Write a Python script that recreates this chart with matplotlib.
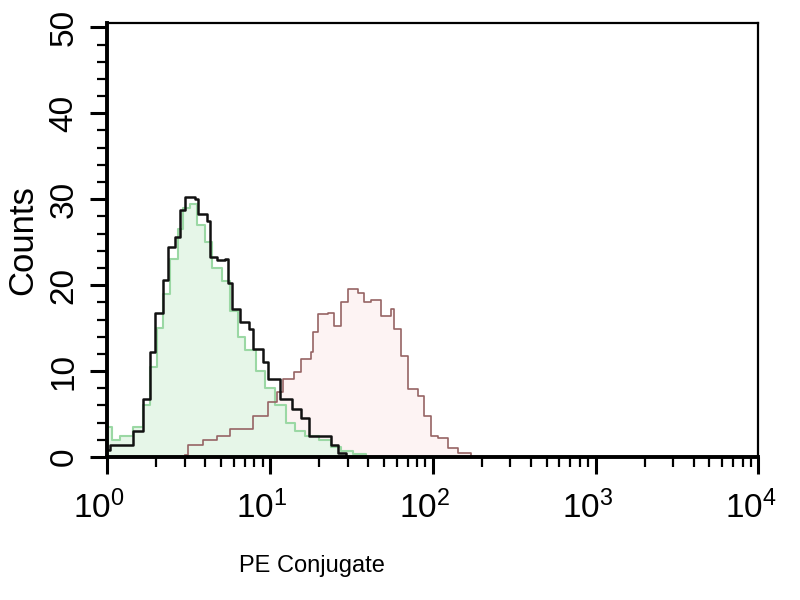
import matplotlib
matplotlib.use('Agg')
import matplotlib.pyplot as plt
import matplotlib.transforms as mtransforms
from matplotlib.ticker import MultipleLocator, LogLocator, NullFormatter, FixedLocator
import numpy as np

plt.rcParams['font.family'] = ['Liberation Sans', 'DejaVu Sans']
plt.rcParams['mathtext.default'] = 'regular'

# isotype control, black outline (channel value, counts)
ctrl_x = [1.0, 1.04, 1.45, 1.67, 1.84, 1.97, 2.21, 2.37, 2.62, 2.81, 3.02, 3.48, 3.63, 4.13,
          4.30, 4.75, 5.32, 5.55, 5.88, 6.58, 7.38, 7.91, 9.12, 9.79, 11.6, 13.7, 15.4,
          17.3, 21.0, 23.6, 26.0, 29.2]
ctrl_y = [0.8, 1.4, 3.0, 6.8, 12.2, 16.8, 20.6, 24.4, 25.6, 28.7, 30.2, 30.0, 28.3, 27.5,
          23.3, 22.9, 23.1, 20.3, 17.2, 15.7, 14.9, 12.6, 11.0, 9.1, 6.8, 5.6, 4.5,
          2.5, 2.4, 1.4, 0.5, 0.0]

# unstained cells, green filled
neg_x = [1.0, 1.07, 1.20, 1.45, 1.67, 1.84, 2.03, 2.21, 2.44, 2.73, 2.94, 3.24, 3.58, 4.01,
         4.43, 5.10, 5.71, 6.40, 7.07, 8.15, 9.38, 10.8, 12.5, 14.3, 16.5, 19.9, 23.6,
         27.2, 32.2, 38.7]
neg_y = [3.5, 2.0, 2.5, 3.5, 6.0, 10.5, 15.0, 19.0, 23.0, 26.5, 29.0, 29.5, 27.0, 25.0,
         22.0, 20.5, 17.0, 14.0, 12.5, 10.0, 8.0, 6.0, 4.0, 3.0, 2.5, 2.0, 1.2,
         0.7, 0.3, 0.0]

# PE stained sample
pe_x = [3.02, 3.15, 3.90, 4.75, 5.71, 7.27, 7.91, 9.66, 11.1, 12.1, 14.0, 15.4, 17.8, 18.5,
        19.6, 22.6, 24.6, 27.2, 30.0, 34.5, 37.6, 41.5, 47.9, 55.2, 57.5, 63.5, 70.2,
        80.9, 88.1, 97.2, 107, 124, 142, 171, 10000]
pe_y = [0.2, 1.4, 2.0, 2.4, 3.3, 3.3, 4.8, 6.4, 7.6, 9.1, 9.9, 11.4, 12.2, 14.5,
        16.6, 16.8, 15.2, 18.0, 19.5, 19.1, 18.0, 18.3, 16.4, 17.2, 14.9, 11.8, 7.9,
        7.1, 4.8, 2.5, 2.2, 1.0, 0.5, 0.2, 0.2]

fig = plt.figure(figsize=(8, 6), dpi=100)
ax = fig.add_axes([0.134, 0.2383, 0.814, 0.7233])

ax.fill_between(pe_x, pe_y, step='post', color='#fdf3f3', lw=0)
ax.fill_between(neg_x, neg_y, step='post', color='#e6f6e8', lw=0)
ax.step(neg_x, neg_y, where='post', color='#9bd8a4', lw=1.5)
ax.step(pe_x[:-1], pe_y[:-1], where='post', color='#966464', lw=1.2)
ax.step(ctrl_x, ctrl_y, where='post', color='#111111', lw=1.8)

ax.set_xscale('log')
ax.set_xlim(1, 10000)
ax.set_ylim(0, 50.5)

ax.xaxis.set_major_locator(FixedLocator([1, 10, 100, 1000, 10000]))
ax.set_xticklabels(['$10^{%d}$' % i for i in range(5)])
ax.xaxis.set_minor_locator(LogLocator(base=10, subs=np.arange(2, 10), numticks=20))
ax.xaxis.set_minor_formatter(NullFormatter())

ax.yaxis.set_major_locator(MultipleLocator(10))
ax.yaxis.set_minor_locator(MultipleLocator(2))
for lab in ax.get_yticklabels():
    lab.set_rotation(90)
    lab.set_va('center')

ax.tick_params(axis='both', which='major', direction='out', length=12, width=2.2,
               labelsize=24, color='black')
ax.tick_params(axis='both', which='minor', direction='out', length=7, width=1.6)
ax.tick_params(axis='x', which='major', pad=12)
ax.tick_params(axis='y', which='major', pad=8)

# reference tick labels sit a little left of their ticks
shift = mtransforms.ScaledTranslation(-8 / 100, 0, fig.dpi_scale_trans)
for lab in ax.get_xticklabels():
    lab.set_transform(lab.get_transform() + shift)

for side in ['left', 'bottom']:
    ax.spines[side].set_linewidth(2.8)
for side in ['top', 'right']:
    ax.spines[side].set_linewidth(1.6)

ax.set_xlabel('PE Conjugate', fontsize=17)
ax.xaxis.set_label_coords((312 - 107) / 651, -0.225)
ax.set_ylabel('Counts', fontsize=25)
ax.yaxis.set_label_coords(-0.105, 0.5)

fig.savefig('out.png', dpi=100)
